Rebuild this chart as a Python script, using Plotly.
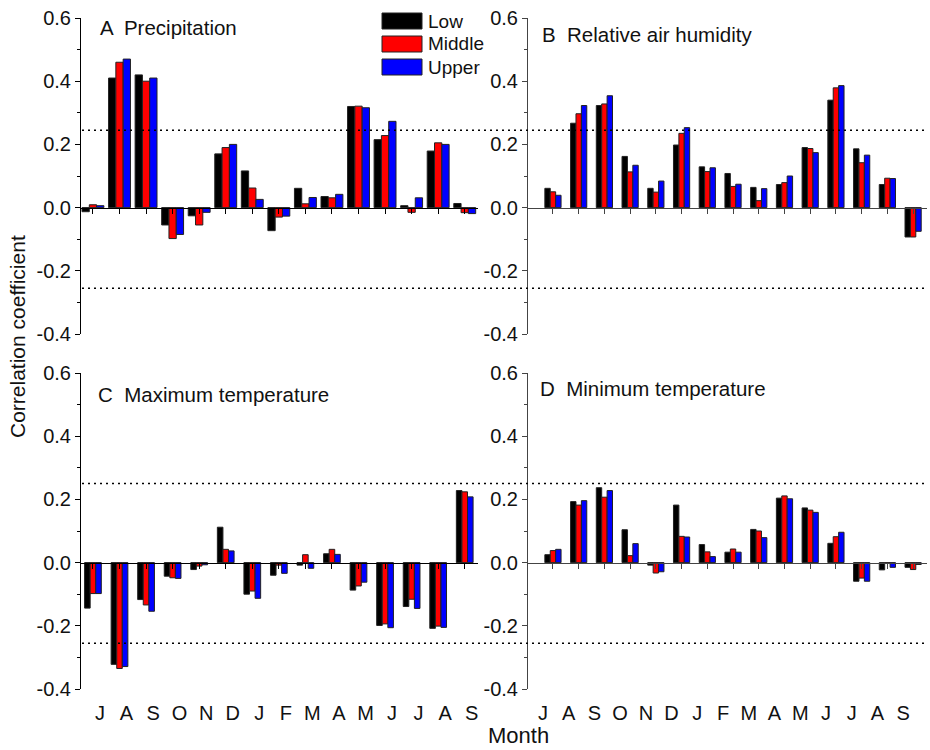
import plotly.graph_objects as go

# Months from July of the previous year to September of the current year
months = ["J", "A", "S", "O", "N", "D", "J", "F", "M", "A", "M", "J", "J", "A", "S"]
positions = list(range(1, len(months) + 1))

series_names = ["Low", "Middle", "Upper"]
series_colors = ["#000000", "#FF0000", "#0000FF"]

# A  Precipitation
precip_low = [-0.013, 0.41, 0.42, -0.055, -0.026, 0.17, 0.116, -0.073, 0.061, 0.035, 0.32, 0.215, 0.006, 0.179, 0.013]
precip_mid = [0.009, 0.46, 0.40, -0.098, -0.055, 0.19, 0.062, -0.030, 0.012, 0.031, 0.321, 0.228, -0.015, 0.205, -0.016]
precip_upp = [0.006, 0.47, 0.41, -0.085, -0.015, 0.20, 0.026, -0.027, 0.032, 0.042, 0.316, 0.273, 0.031, 0.200, -0.019]

# B  Relative air humidity
rh_low = [0.061, 0.267, 0.323, 0.162, 0.061, 0.198, 0.129, 0.108, 0.064, 0.073, 0.190, 0.340, 0.186, 0.073, -0.093]
rh_mid = [0.050, 0.297, 0.328, 0.113, 0.049, 0.235, 0.114, 0.067, 0.022, 0.079, 0.187, 0.379, 0.142, 0.093, -0.093]
rh_upp = [0.039, 0.323, 0.354, 0.134, 0.084, 0.253, 0.126, 0.074, 0.060, 0.100, 0.174, 0.386, 0.166, 0.092, -0.075]

# C  Maximum temperature
tmax_low = [-0.144, -0.322, -0.117, -0.043, -0.022, 0.112, -0.100, -0.040, -0.008, 0.028, -0.087, -0.199, -0.139, -0.208, 0.228]
tmax_mid = [-0.098, -0.335, -0.134, -0.048, -0.011, 0.042, -0.090, -0.008, 0.025, 0.042, -0.074, -0.194, -0.116, -0.201, 0.224]
tmax_upp = [-0.098, -0.329, -0.154, -0.050, -0.007, 0.037, -0.113, -0.034, -0.018, 0.026, -0.062, -0.206, -0.145, -0.205, 0.208]

# D  Minimum temperature
tmin_low = [0.025, 0.193, 0.237, 0.104, -0.008, 0.182, 0.057, 0.033, 0.105, 0.204, 0.173, 0.061, -0.059, -0.023, -0.015]
tmin_mid = [0.038, 0.182, 0.207, 0.022, -0.033, 0.083, 0.034, 0.043, 0.100, 0.211, 0.166, 0.082, -0.049, -0.002, -0.022]
tmin_upp = [0.042, 0.196, 0.228, 0.060, -0.029, 0.081, 0.019, 0.033, 0.079, 0.202, 0.159, 0.096, -0.059, -0.015, -0.006]

# Significance thresholds (upper, lower) for the top and bottom rows
thresholds_top = [0.245, -0.255]
thresholds_bottom = [0.25, -0.255]

y_tickvals = [-0.4, -0.2, 0.0, 0.2, 0.4, 0.6]
y_ticktext = ["-0.4", "-0.2", "0.0", "0.2", "0.4", "0.6"]
y_minor = [-0.3, -0.1, 0.1, 0.3, 0.5]

W, H = 930, 750
FONT = "Arial, Liberation Sans, sans-serif"
INK = "#111111"


def fx(px):
    return px / W


def fy(py):
    return 1 - py / H


top_dom = [fy(334), fy(18)]
bot_dom = [fy(689), fy(373)]
left_dom = [fx(81), fx(478)]
right_dom = [fx(528), fx(927)]

panels = [
    dict(title="A  Precipitation", data=[precip_low, precip_mid, precip_upp],
         xd=left_dom, yd=top_dom, xr=[0.55, 15.5], bw=0.275, axc="#000000",
         tpos=(98, 28), labels=False, shift=0),
    dict(title="B  Relative air humidity", data=[rh_low, rh_mid, rh_upp],
         xd=right_dom, yd=top_dom, xr=[0.03, 15.54], bw=0.21, axc="#444444",
         tpos=(540, 35), labels=False, shift=0),
    dict(title="C  Maximum temperature", data=[tmax_low, tmax_mid, tmax_upp],
         xd=left_dom, yd=bot_dom, xr=[0.55, 15.5], bw=0.21, axc="#000000",
         tpos=(96, 395), labels=True, shift=7),
    dict(title="D  Minimum temperature", data=[tmin_low, tmin_mid, tmin_upp],
         xd=right_dom, yd=bot_dom, xr=[0.03, 15.54], bw=0.21, axc="#444444",
         tpos=(538, 388), labels=True, shift=-10),
]

fig = go.Figure()
layout = dict(
    width=W, height=H,
    margin=dict(l=0, r=0, t=0, b=0, pad=0, autoexpand=False),
    paper_bgcolor="white", plot_bgcolor="white",
    showlegend=False,
    font=dict(family=FONT, color=INK),
    barmode="overlay",
)
annotations = []
shapes = []

for i, p in enumerate(panels, start=1):
    xa = "x" if i == 1 else f"x{i}"
    ya = "y" if i == 1 else f"y{i}"
    for k, (name, col, vals) in enumerate(zip(series_names, series_colors, p["data"])):
        fig.add_trace(go.Bar(
            x=positions, y=vals, name=name,
            width=p["bw"], offset=-1.5 * p["bw"] + k * p["bw"],
            marker=dict(color=col, line=dict(color="#222222", width=1)),
            xaxis=xa, yaxis=ya,
        ))
    # x axis sits on the zero line of its panel
    zero_pos = p["yd"][0] + 0.4 * (p["yd"][1] - p["yd"][0])
    layout["xaxis" if i == 1 else f"xaxis{i}"] = dict(
        domain=p["xd"], range=p["xr"], anchor="free", position=zero_pos,
        automargin=False,
        showline=True, linecolor=p["axc"], linewidth=1,
        ticks="outside", ticklen=5, tickcolor=p["axc"],
        tickmode="array", tickvals=positions, ticktext=months,
        showticklabels=p["labels"], ticklabelstandoff=127, ticklabelshift=p["shift"],
        tickfont=dict(size=20, family=FONT, color=INK),
        showgrid=False, zeroline=False,
    )
    layout["yaxis" if i == 1 else f"yaxis{i}"] = dict(
        domain=p["yd"], range=[-0.4, 0.6], anchor=xa,
        automargin=False,
        showline=True, linecolor=p["axc"], linewidth=1,
        ticks="outside", ticklen=5, tickcolor=p["axc"],
        tickmode="array", tickvals=y_tickvals, ticktext=y_ticktext,
        minor=dict(tickvals=y_minor, ticks="outside", ticklen=3, tickcolor=p["axc"]),
        tickfont=dict(size=20, family=FONT, color=INK),
        showgrid=False, zeroline=False,
    )
    annotations.append(dict(
        text=p["title"], xref="paper", yref="paper",
        x=fx(p["tpos"][0]), y=fy(p["tpos"][1]), xanchor="left", yanchor="middle",
        showarrow=False, font=dict(size=20.5, family=FONT, color=INK),
    ))

# Dotted significance lines spanning both panels of a row
for yref, levels in (("y", thresholds_top), ("y3", thresholds_bottom)):
    for lv in levels:
        shapes.append(dict(
            type="line", xref="paper", yref=yref,
            x0=fx(82), x1=fx(927), y0=lv, y1=lv,
            line=dict(color="#000000", width=1.5, dash="2px,4px"), layer="above",
        ))

# Legend boxes
legend_rows = [21, 44, 67]
for name, col, yc in zip(series_names, series_colors, legend_rows):
    shapes.append(dict(
        type="rect", xref="paper", yref="paper",
        x0=fx(382), x1=fx(422), y0=fy(yc + 8), y1=fy(yc - 8),
        fillcolor=col, line=dict(color="#222222", width=1),
    ))
    annotations.append(dict(
        text=name, xref="paper", yref="paper", x=fx(426), y=fy(yc),
        xanchor="left", yanchor="middle", showarrow=False,
        font=dict(size=19, family=FONT, color=INK),
    ))

# Shared axis titles
annotations.append(dict(
    text="Correlation coefficient", xref="paper", yref="paper",
    x=fx(17), y=fy(337), xanchor="center", yanchor="middle", textangle=-90,
    showarrow=False, font=dict(size=21, family=FONT, color=INK),
))
annotations.append(dict(
    text="Month", xref="paper", yref="paper",
    x=fx(518), y=0, xanchor="center", yanchor="bottom", yshift=0,
    showarrow=False, font=dict(size=22, family=FONT, color=INK),
))

layout["annotations"] = annotations
layout["shapes"] = shapes
fig.update_layout(**layout)
fig.write_html("out.html")
